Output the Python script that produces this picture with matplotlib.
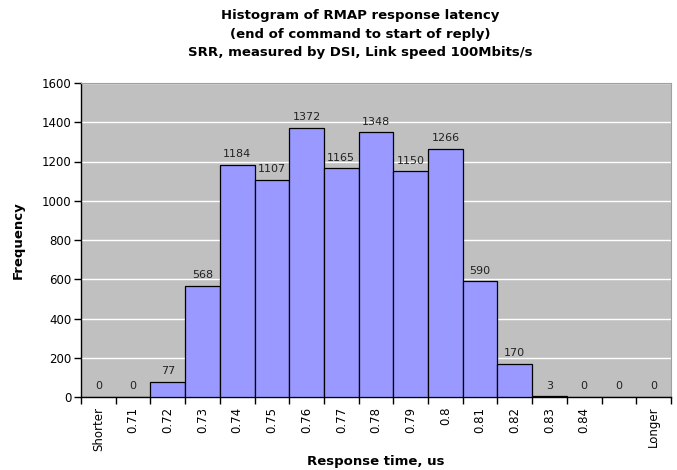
import matplotlib

matplotlib.use("Agg")

import matplotlib.pyplot as plt
import numpy as np

categories = ["Shorter", "0.71", "0.72", "0.73", "0.74", "0.75", "0.76", "0.77",
              "0.78", "0.79", "0.8", "0.81", "0.82", "0.83", "0.84", "", "Longer"]
frequency = [0, 0, 77, 568, 1184, 1107, 1372, 1165, 1348, 1150, 1266, 590, 170, 3, 0, 0, 0]

title = ("Histogram of RMAP response latency\n"
         "(end of command to start of reply)\n"
         "SRR, measured by DSI, Link speed 100Mbits/s")


def main() -> None:
    plt.rcParams["font.family"] = ["DejaVu Sans"]
    fig = plt.figure(figsize=(6.77, 4.70), dpi=100)
    ax = fig.add_axes([81 / 677, 73 / 470, 590 / 677, 314 / 470])

    x = np.arange(len(categories))
    ax.set_facecolor("#C0C0C0")
    ax.bar(x, frequency, width=1.0, color="#9999FF", edgecolor="black",
           linewidth=0.9, zorder=3)
    for xi, v in zip(x, frequency):
        ax.annotate(str(v), (xi, v), xytext=(0, 4), textcoords="offset points",
                    ha="center", va="bottom", fontsize=8, color="#222222", zorder=4)

    ax.set_xlim(-0.5, len(categories) - 0.5)
    ax.set_ylim(0, 1600)
    ax.set_yticks(np.arange(0, 1601, 200))
    ax.yaxis.grid(True, color="white", linewidth=1.0, zorder=1)
    ax.set_axisbelow(True)

    # ticks at category boundaries, labels centred under bars
    ax.set_xticks(np.arange(len(categories) + 1) - 0.5)
    ax.set_xticklabels([])
    ax.set_xticks(x, minor=True)
    ax.set_xticklabels(categories, minor=True, rotation=90, fontsize=8.5)
    ax.tick_params(axis="x", which="minor", length=0, pad=7)
    ax.tick_params(axis="x", which="major", length=5, width=1, direction="out")
    ax.tick_params(axis="y", length=5, width=1, direction="out", labelsize=8.5, pad=2)

    for side in ("top", "right"):
        ax.spines[side].set_color("#A0A0A0")
        ax.spines[side].set_linewidth(0.8)
    for side in ("left", "bottom"):
        ax.spines[side].set_color("black")
        ax.spines[side].set_linewidth(1.0)

    ax.set_xlabel("Response time, us", fontsize=9.5, fontweight="bold")
    ax.xaxis.set_label_coords(0.5, -0.185)
    ax.set_ylabel("Frequency", fontsize=9.5, fontweight="bold", labelpad=12)
    fig.text(0.532, 0.98, title, fontsize=9.5, fontweight="bold", ha="center",
             va="top", linespacing=1.55)

    fig.savefig("out.png", dpi=100)


if __name__ == "__main__":
    main()
